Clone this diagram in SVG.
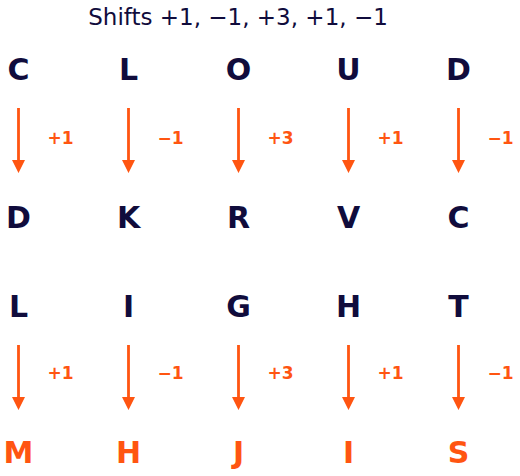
<svg xmlns="http://www.w3.org/2000/svg" width="520" height="476" viewBox="0 0 520 476">
<defs>
<style>
.t{font-family:"DejaVu Sans",sans-serif;font-size:23px;fill:#100c3c}
.l{font-family:"DejaVu Sans",sans-serif;font-weight:bold;font-size:30px;fill:#100c3c;text-anchor:middle}
.o{fill:#ff5511}
.s{font-family:"DejaVu Sans",sans-serif;font-weight:bold;font-size:17px;fill:#ff5511;text-anchor:middle}
.a{stroke:#ff5511;stroke-width:2.8;fill:none}
.h{fill:#ff5511}
</style>
</defs>
<text class="t" x="238" y="25" text-anchor="middle">Shifts +1, −1, +3, +1, −1</text>
<g id="row1">
<text class="l" x="18.5" y="80">C</text>
<text class="l" x="128.5" y="80">L</text>
<text class="l" x="238.5" y="80">O</text>
<text class="l" x="348.5" y="80">U</text>
<text class="l" x="458.5" y="80">D</text>
</g>
<g id="row2">
<text class="l" x="18.5" y="228">D</text>
<text class="l" x="128.5" y="228">K</text>
<text class="l" x="238.5" y="228">R</text>
<text class="l" x="348.5" y="228">V</text>
<text class="l" x="458.5" y="228">C</text>
</g>
<g id="row3">
<text class="l" x="18.5" y="317">L</text>
<text class="l" x="128.5" y="317">I</text>
<text class="l" x="238.5" y="317">G</text>
<text class="l" x="348.5" y="317">H</text>
<text class="l" x="458.5" y="317">T</text>
</g>
<g id="row4">
<text class="l o" x="18.5" y="463">M</text>
<text class="l o" x="128.5" y="463">H</text>
<text class="l o" x="238.5" y="463">J</text>
<text class="l o" x="348.5" y="463">I</text>
<text class="l o" x="458.5" y="463">S</text>
</g>
<g id="connectors">
<path class="a" d="M18.5 108V162M128.5 108V162M238.5 108V162M348.5 108V162M458.5 108V162"/>
<path class="h" d="M12 160H25L18.5 173ZM122 160H135L128.5 173ZM232 160H245L238.5 173ZM342 160H355L348.5 173ZM452 160H465L458.5 173Z"/>
<path class="a" d="M18.5 345V399M128.5 345V399M238.5 345V399M348.5 345V399M458.5 345V399"/>
<path class="h" d="M12 397H25L18.5 410ZM122 397H135L128.5 410ZM232 397H245L238.5 410ZM342 397H355L348.5 410ZM452 397H465L458.5 410Z"/>
<text class="s" x="60.5" y="144">+1</text>
<text class="s" x="170.5" y="144">−1</text>
<text class="s" x="280.5" y="144">+3</text>
<text class="s" x="390.5" y="144">+1</text>
<text class="s" x="500.5" y="144">−1</text>
<text class="s" x="60.5" y="379">+1</text>
<text class="s" x="170.5" y="379">−1</text>
<text class="s" x="280.5" y="379">+3</text>
<text class="s" x="390.5" y="379">+1</text>
<text class="s" x="500.5" y="379">−1</text>
</g>
</svg>
